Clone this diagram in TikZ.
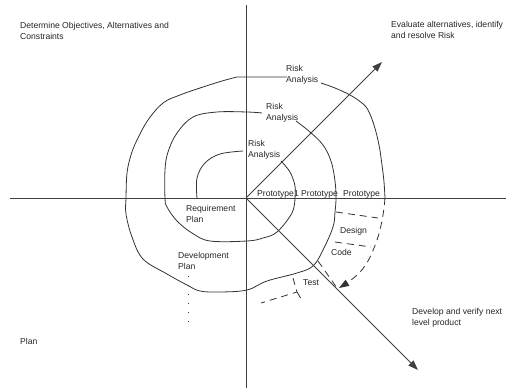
\documentclass[tikz,border=0pt]{standalone}
\usepackage{fontspec}
\setmainfont{Liberation Sans}
\usetikzlibrary{arrows.meta}
\begin{document}
\begin{tikzpicture}[x=1pt,y=-1pt,
  lbl/.style={font=\fontsize{8.6}{11.5}\selectfont, inner sep=0pt, align=left, anchor=north west, text=black!85},
  bl/.style={font=\fontsize{8.6}{11.5}\selectfont, inner sep=0pt, anchor=base west, text=black!85},
  axis/.style={line width=1pt, draw=black!75},
  curve/.style={line width=0.8pt, draw=black!80},
  dsh/.style={curve, dash pattern=on 7pt off 5pt},
  tip/.style={-{Triangle[length=10pt,width=7pt]}},
]
\useasboundingbox[fill=white] (0,0) rectangle (506,388);
\coordinate (O) at (246,198);
\coordinate (top) at (246,5);
\coordinate (bot) at (246,388);
\coordinate (lft) at (10,198);
\coordinate (rgt) at (506,198);
\coordinate (ne) at (382,62);
\coordinate (se) at (418,370);

% axes
\draw[axis] (top) -- (bot);
\draw[axis] (lft) -- (rgt);
\draw[axis,tip] (O) -- (ne);
\draw[axis,tip] (O) -- (se);

% inner loop
\draw[curve] plot[smooth,tension=0.6] coordinates {(197,198) (197,178) (205,163) (220,154) (243,151)};
\draw[curve] plot[smooth,tension=0.6] coordinates {(281,161) (290,172) (295,186) (295,198)};
\draw[curve] plot[smooth,tension=0.6] coordinates {(295,198) (292,213) (277,232) (263,238) (247,241) (210,241) (192,233) (177,221) (167,207) (165,198) (165,170) (168,152) (177,133) (193,117) (217,112) (247,112) (262,113)};
% middle loop
\draw[curve] plot[smooth,tension=0.6] coordinates {(296,121) (310,132) (323,145) (331,161) (335,181) (336,198) (335,212) (333,227) (323,250) (313,266) (297,273) (267,281) (247,290) (220,292) (200,291) (187,285) (167,274) (143,259) (132,237) (126,214) (126,198) (127,173) (131,155) (137,140) (148,120) (163,103) (180,95) (200,88) (222,81) (237,77)} -- (287,77);
% outer loop
\draw[curve] plot[smooth,tension=0.6] coordinates {(321,83) (335,88) (350,95) (362,103) (368,110) (374,125) (379,145) (382,165) (384,182) (385,198)};
\draw[dsh,tip] plot[smooth,tension=0.6] coordinates {(385,198) (383,215) (378,237) (368,261) (356,276) (339,288)};

% dashed separators
\draw[dsh] (336,212) -- (378,218);
\draw[dsh] (335,242) -- (371,247);
\draw[dsh] (318,261) -- (337,288);
\draw[dsh] (293,278) -- (297,292) -- (261,303);
\draw[dsh] (297,292) -- (303,302);
\draw[curve, dash pattern=on 1pt off 8pt] (188,276) -- (188,324);

% labels
\node[lbl] (t1) at (20,22) {Determine Objectives, Alternatives and\\Constraints};
\node[lbl] (t2) at (391,21) {Evaluate alternatives, identify\\and resolve Risk};
\node[lbl] (r3) at (286,65) {Risk\\Analysis};
\node[lbl] (r2) at (266,103) {Risk\\Analysis};
\node[lbl] (r1) at (248,140) {Risk\\Analysis};
\node[bl] (p1) at (257,196) {Prototype1 Prototype};
\node[bl] (p3) at (343,196) {Prototype};
\node[lbl] (rp) at (186,205) {Requirement\\Plan};
\node[lbl] (dp) at (178,252) {Development\\Plan};
\node[lbl] (pl) at (20,338) {Plan};
\node[lbl] (ds) at (340,227) {Design};
\node[lbl] (cd) at (331,249) {Code};
\node[lbl] (ts) at (303,279) {Test};
\node[lbl] (t4) at (412,308) {Develop and verify next\\level product};
\end{tikzpicture}
\end{document}
